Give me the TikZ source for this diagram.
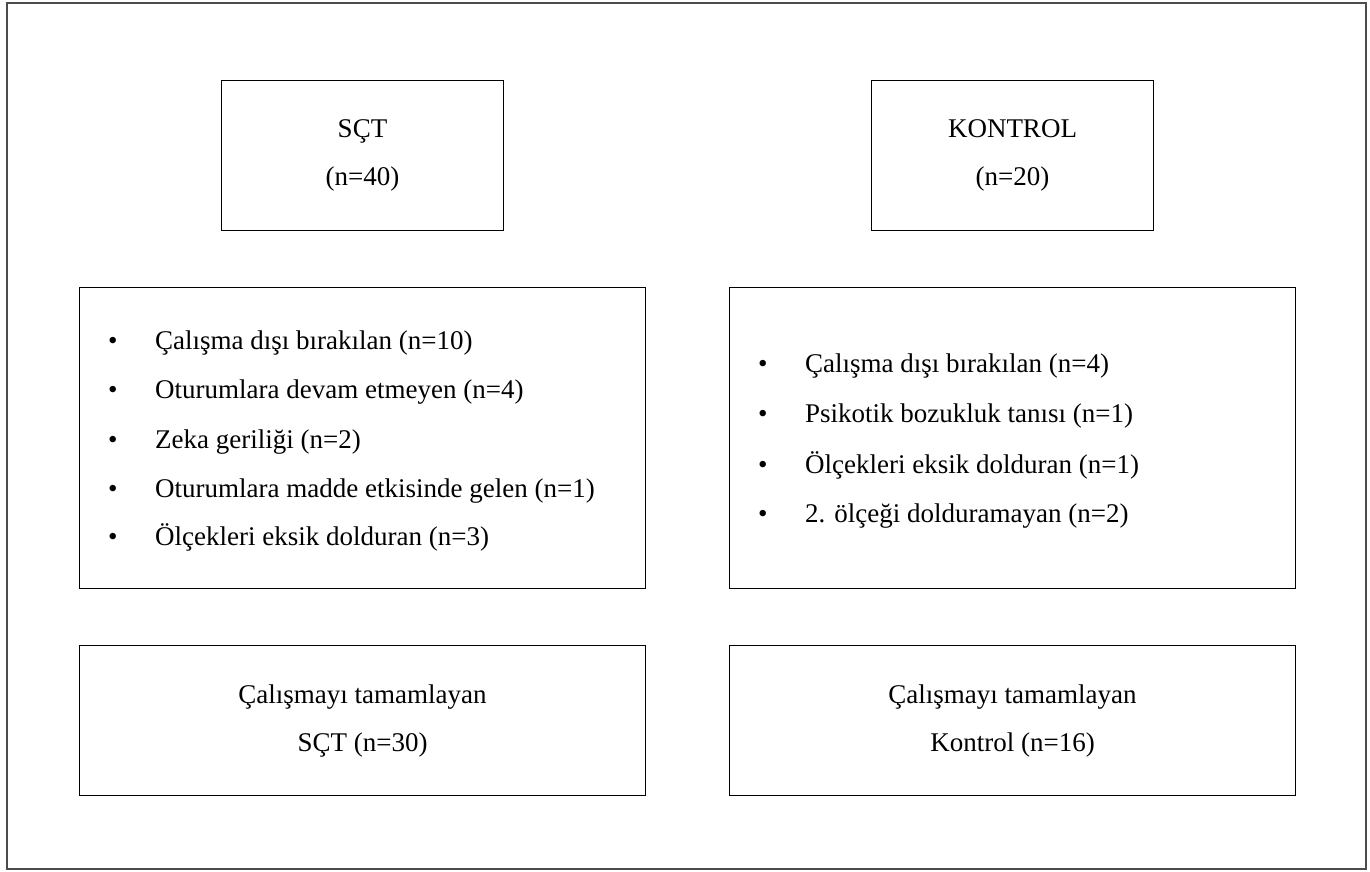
\documentclass[tikz,border=0pt]{standalone}
\usepackage{fontspec}
\setmainfont{Liberation Serif}
\begin{document}
\begin{tikzpicture}[x=1pt, y=-1pt,
  box/.style={rectangle, draw=black, line width=1pt, anchor=north west, inner sep=0pt, align=center, font=\fontsize{27}{48}\selectfont},
  item/.style={anchor=base west, inner sep=0pt, font=\fontsize{27}{32}\selectfont}]

\useasboundingbox (0,0) rectangle (1370,872);
\draw[draw=black!70, line width=1.5pt] (7,3) rectangle (1366,869);

% groups
\node[box, minimum width=282pt, minimum height=150pt] (sct) at (221,80) {SÇT\\(n=40)};
\node[box, minimum width=282pt, minimum height=150pt] (kontrol) at (871,80) {KONTROL\\(n=20)};

% excluded
\node[box, minimum width=566pt, minimum height=301pt] (sctout) at (79,287) {};
\node[box, minimum width=566pt, minimum height=301pt] (kontrolout) at (729,287) {};

\node[item] (s1) at (108,349) {\makebox[47pt][l]{•}Çalışma dışı bırakılan (n=10)};
\node[item] (s2) at (108,398) {\makebox[47pt][l]{•}Oturumlara devam etmeyen (n=4)};
\node[item] (s3) at (108,448) {\makebox[47pt][l]{•}Zeka geriliği (n=2)};
\node[item] (s4) at (108,497) {\makebox[47pt][l]{•}Oturumlara madde etkisinde gelen (n=1)};
\node[item] (s5) at (108,545) {\makebox[47pt][l]{•}Ölçekleri eksik dolduran (n=3)};

\node[item] (k1) at (758,372) {\makebox[47pt][l]{•}Çalışma dışı bırakılan (n=4)};
\node[item] (k2) at (758,422) {\makebox[47pt][l]{•}Psikotik bozukluk tanısı (n=1)};
\node[item] (k3) at (758,473) {\makebox[47pt][l]{•}Ölçekleri eksik dolduran (n=1)};
\node[item] (k4) at (758,522) {\makebox[47pt][l]{•}2. ölçeği dolduramayan (n=2)};

% completed
\node[box, minimum width=566pt, minimum height=150pt] (sctend) at (79,645) {Çalışmayı tamamlayan\\SÇT (n=30)};
\node[box, minimum width=566pt, minimum height=150pt] (kontrolend) at (729,645) {Çalışmayı tamamlayan\\Kontrol (n=16)};
\end{tikzpicture}
\end{document}
